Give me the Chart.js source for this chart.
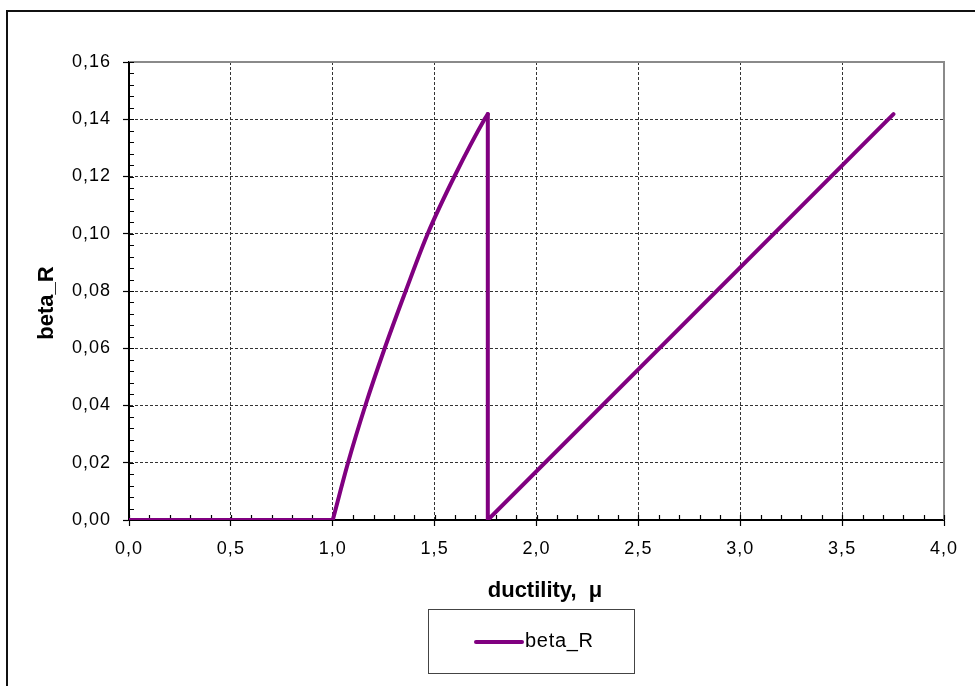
<!DOCTYPE html>
<html>
<head>
<meta charset="utf-8">
<script src="https://cdn.jsdelivr.net/npm/chart.js@4/dist/chart.umd.min.js"></script>
<style>
  html, body { margin: 0; padding: 0; background: #fff; width: 975px; height: 686px; overflow: hidden; }
  #frame { position: absolute; left: 6px; top: 10px; width: 1000px; height: 700px; border: 2px solid #111; box-sizing: border-box; }
  #wrap { position: absolute; left: 0; top: 0; width: 975px; height: 686px; }
</style>
</head>
<body>
<div id="frame"></div>
<div id="wrap"><canvas id="c" width="975" height="686"></canvas></div>
<script>
// Ductility vs. beta_R
// rising branch (smooth curve)
const muCurve   = [1.0, 1.075, 1.16, 1.255, 1.358, 1.466, 1.597, 1.745, 1.761];
const betaCurve = [0,   0.02,  0.04, 0.06,  0.08,  0.10,  0.12,  0.14,  0.1418];
// straight parts: zero plateau, vertical drop, linear branch (null = break)
const muLinear   = [0, 1.0, null, 1.761,  1.761, 3.752];
const betaLinear = [0, 0,   null, 0.1418, 0,     0.1418];

const seriesName = 'beta_R';
const xTitle = 'ductility,  \u03bc';
const yTitle = 'beta_R';

const xRange = { min: 0, max: 4, step: 0.5, minor: 0.1 };
const yRange = { min: 0, max: 0.16, step: 0.02, minor: 0.004 };

const FONT = "'Liberation Sans', Arial, sans-serif";
const PURPLE = '#800080';

const toPoints = (xs, ys) => xs.map((m, i) => ({ x: m, y: ys[i] }));

// Minor ticks, plot frame, axis titles and the boxed legend
const decorations = {
  id: 'decorations',
  beforeUpdate(chart) { chart.ctx.letterSpacing = '1px'; },
  beforeDraw(chart) { chart.ctx.letterSpacing = '1px'; },
  beforeDatasetsDraw(chart) {
    const { ctx, chartArea: a, scales: { x, y } } = chart;
    ctx.save();
    // gray top/right frame of the plot area
    ctx.strokeStyle = '#8a8a8a';
    ctx.lineWidth = 2;
    ctx.beginPath();
    ctx.moveTo(a.left, a.top);
    ctx.lineTo(a.right, a.top);
    ctx.lineTo(a.right, a.bottom);
    ctx.stroke();
    // inward minor ticks
    ctx.strokeStyle = '#000';
    ctx.lineWidth = 1.2;
    ctx.beginPath();
    const ny = Math.round((yRange.max - yRange.min) / yRange.minor);
    for (let i = 0; i <= ny; i++) {
      const py = Math.round(y.getPixelForValue(yRange.min + i * yRange.minor)) + 0.5;
      ctx.moveTo(a.left, py);
      ctx.lineTo(a.left + 5, py);
    }
    const nx = Math.round((xRange.max - xRange.min) / xRange.minor);
    for (let i = 0; i <= nx; i++) {
      const px = Math.round(x.getPixelForValue(xRange.min + i * xRange.minor)) + 0.5;
      ctx.moveTo(px, a.bottom);
      ctx.lineTo(px, a.bottom - 5);
    }
    ctx.stroke();
    ctx.restore();
  },
  afterDraw(chart) {
    const { ctx, chartArea: a } = chart;
    ctx.save();
    ctx.letterSpacing = '0px';
    ctx.fillStyle = '#000';
    // axis titles
    ctx.font = 'bold 22px ' + FONT;
    ctx.textAlign = 'center';
    ctx.textBaseline = 'alphabetic';
    ctx.fillText(xTitle, (a.left + a.right) / 2 + 8.5, a.bottom + 77);
    ctx.save();
    ctx.translate(53, (a.top + a.bottom) / 2 + 12);
    ctx.rotate(-Math.PI / 2);
    ctx.fillText(yTitle, 0, 0);
    ctx.restore();
    // legend box
    const ds = chart.data.datasets[0];
    ctx.strokeStyle = '#444';
    ctx.lineWidth = 1;
    ctx.strokeRect(428.5, 609.5, 206, 64);
    ctx.strokeStyle = ds.borderColor;
    ctx.lineWidth = 4;
    ctx.lineCap = 'round';
    ctx.beginPath();
    ctx.moveTo(476, 642);
    ctx.lineTo(522, 642);
    ctx.stroke();
    ctx.font = '20px ' + FONT;
    ctx.letterSpacing = '0.7px';
    ctx.textAlign = 'left';
    ctx.fillText(ds.label, 525, 646.5);
    ctx.restore();
  }
};

const gridColor = (ctx) => {
  const v = ctx.tick ? ctx.tick.value : null;
  if (ctx.index === 0) return 'rgba(0,0,0,0)';
  if (ctx.scale && Math.abs(v - ctx.scale.max) < 1e-9) return 'rgba(0,0,0,0)';
  return '#333';
};

const lineStyle = {
  borderColor: PURPLE,
  backgroundColor: PURPLE,
  borderWidth: 4,
  borderCapStyle: 'round',
  borderJoinStyle: 'round',
  pointRadius: 0,
  fill: false,
  spanGaps: false
};

new Chart(document.getElementById('c'), {
  type: 'line',
  data: {
    datasets: [
      Object.assign({ label: seriesName, data: toPoints(muCurve, betaCurve), cubicInterpolationMode: 'monotone' }, lineStyle),
      Object.assign({ label: seriesName, data: toPoints(muLinear, betaLinear), tension: 0 }, lineStyle)
    ]
  },
  options: {
    responsive: false,
    animation: false,
    events: [],
    layout: { padding: { left: 0, right: 31, top: 62, bottom: 83.5 } },
    plugins: { legend: { display: false }, tooltip: { enabled: false } },
    scales: {
      x: {
        type: 'linear',
        min: xRange.min, max: xRange.max,
        afterFit(s) { s.height = 82.5; },
        ticks: {
          stepSize: xRange.step,
          padding: 12,
          color: '#000',
          font: { family: FONT, size: 18 },
          maxRotation: 0,
          callback: (v) => v.toFixed(1).replace('.', ',')
        },
        grid: { color: gridColor, lineWidth: 1, tickLength: 6, tickColor: '#000', tickWidth: 1.2 },
        border: { display: true, color: '#000', width: 2, dash: [3, 2] }
      },
      y: {
        min: yRange.min, max: yRange.max,
        afterFit(s) { s.width = 129; },
        ticks: {
          stepSize: yRange.step,
          padding: 12,
          color: '#000',
          font: { family: FONT, size: 18 },
          callback: (v) => v.toFixed(2).replace('.', ',')
        },
        grid: { color: gridColor, lineWidth: 1, tickLength: 6, tickColor: '#000', tickWidth: 1.2 },
        border: { display: true, color: '#000', width: 2, dash: [3, 2] }
      }
    }
  },
  plugins: [decorations]
});
</script>
</body>
</html>
